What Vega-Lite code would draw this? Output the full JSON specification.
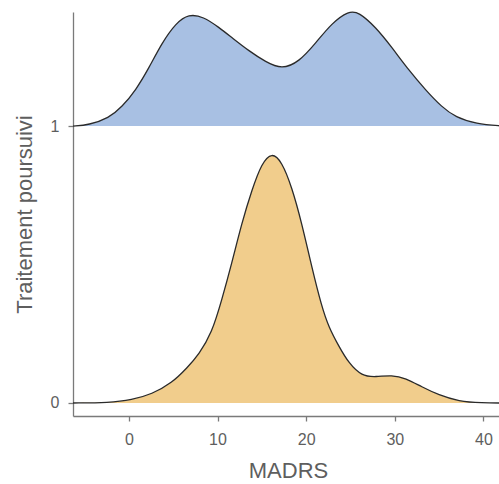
{
  "$schema": "https://vega.github.io/schema/vega-lite/v6.json",
  "autosize": "none",
  "width": 430,
  "height": 404,
  "padding": {"left": 73, "top": 12, "right": 0, "bottom": 68},
  "background": "white",
  "config": {
    "view": {"stroke": null},
    "font": "Liberation Sans",
    "axis": {
      "grid": false,
      "domainColor": "#7a7a7a",
      "domainWidth": 1.3,
      "tickColor": "#7a7a7a",
      "tickWidth": 1.3,
      "tickSize": 5,
      "labelColor": "#5e5e5e",
      "labelFont": "Liberation Sans",
      "labelFontSize": 16,
      "titleFont": "Liberation Sans",
      "titleFontSize": 22,
      "titleFontWeight": "normal",
      "titleColor": "#5e5e5e"
    }
  },
  "data": {
    "values": [
      {"Traitement": "1", "MADRS": -6.3, "y": 1.0, "base": 1},
      {"Traitement": "1", "MADRS": -4.51, "y": 1.004, "base": 1},
      {"Traitement": "1", "MADRS": -2.25, "y": 1.029, "base": 1},
      {"Traitement": "1", "MADRS": -0.79, "y": 1.069, "base": 1},
      {"Traitement": "1", "MADRS": 0.79, "y": 1.13, "base": 1},
      {"Traitement": "1", "MADRS": 2.25, "y": 1.209, "base": 1},
      {"Traitement": "1", "MADRS": 3.72, "y": 1.3, "base": 1},
      {"Traitement": "1", "MADRS": 5.3, "y": 1.372, "base": 1},
      {"Traitement": "1", "MADRS": 6.76, "y": 1.405, "base": 1},
      {"Traitement": "1", "MADRS": 8.4, "y": 1.395, "base": 1},
      {"Traitement": "1", "MADRS": 10.15, "y": 1.357, "base": 1},
      {"Traitement": "1", "MADRS": 11.75, "y": 1.316, "base": 1},
      {"Traitement": "1", "MADRS": 13.53, "y": 1.272, "base": 1},
      {"Traitement": "1", "MADRS": 15.45, "y": 1.231, "base": 1},
      {"Traitement": "1", "MADRS": 17.25, "y": 1.205, "base": 1},
      {"Traitement": "1", "MADRS": 19.17, "y": 1.231, "base": 1},
      {"Traitement": "1", "MADRS": 21.08, "y": 1.3, "base": 1},
      {"Traitement": "1", "MADRS": 22.89, "y": 1.372, "base": 1},
      {"Traitement": "1", "MADRS": 24.8, "y": 1.416, "base": 1},
      {"Traitement": "1", "MADRS": 25.93, "y": 1.412, "base": 1},
      {"Traitement": "1", "MADRS": 27.85, "y": 1.357, "base": 1},
      {"Traitement": "1", "MADRS": 29.65, "y": 1.285, "base": 1},
      {"Traitement": "1", "MADRS": 31.57, "y": 1.202, "base": 1},
      {"Traitement": "1", "MADRS": 33.48, "y": 1.13, "base": 1},
      {"Traitement": "1", "MADRS": 35.29, "y": 1.069, "base": 1},
      {"Traitement": "1", "MADRS": 36.87, "y": 1.032, "base": 1},
      {"Traitement": "1", "MADRS": 39.12, "y": 1.008, "base": 1},
      {"Traitement": "1", "MADRS": 42.2, "y": 1.0, "base": 1},
      {"Traitement": "0", "MADRS": -6.3, "y": 0.0, "base": 0},
      {"Traitement": "0", "MADRS": -2.25, "y": 0.001, "base": 0},
      {"Traitement": "0", "MADRS": 0.34, "y": 0.011, "base": 0},
      {"Traitement": "0", "MADRS": 2.59, "y": 0.032, "base": 0},
      {"Traitement": "0", "MADRS": 4.85, "y": 0.072, "base": 0},
      {"Traitement": "0", "MADRS": 6.6, "y": 0.128, "base": 0},
      {"Traitement": "0", "MADRS": 7.89, "y": 0.175, "base": 0},
      {"Traitement": "0", "MADRS": 9.36, "y": 0.253, "base": 0},
      {"Traitement": "0", "MADRS": 10.48, "y": 0.372, "base": 0},
      {"Traitement": "0", "MADRS": 11.61, "y": 0.505, "base": 0},
      {"Traitement": "0", "MADRS": 12.74, "y": 0.65, "base": 0},
      {"Traitement": "0", "MADRS": 13.87, "y": 0.769, "base": 0},
      {"Traitement": "0", "MADRS": 14.99, "y": 0.866, "base": 0},
      {"Traitement": "0", "MADRS": 16.12, "y": 0.906, "base": 0},
      {"Traitement": "0", "MADRS": 17.25, "y": 0.872, "base": 0},
      {"Traitement": "0", "MADRS": 18.38, "y": 0.78, "base": 0},
      {"Traitement": "0", "MADRS": 19.5, "y": 0.65, "base": 0},
      {"Traitement": "0", "MADRS": 20.63, "y": 0.491, "base": 0},
      {"Traitement": "0", "MADRS": 21.76, "y": 0.347, "base": 0},
      {"Traitement": "0", "MADRS": 22.55, "y": 0.274, "base": 0},
      {"Traitement": "0", "MADRS": 23.68, "y": 0.205, "base": 0},
      {"Traitement": "0", "MADRS": 24.8, "y": 0.144, "base": 0},
      {"Traitement": "0", "MADRS": 26.27, "y": 0.097, "base": 0},
      {"Traitement": "0", "MADRS": 27.85, "y": 0.094, "base": 0},
      {"Traitement": "0", "MADRS": 29.65, "y": 0.101, "base": 0},
      {"Traitement": "0", "MADRS": 31.23, "y": 0.09, "base": 0},
      {"Traitement": "0", "MADRS": 33.03, "y": 0.058, "base": 0},
      {"Traitement": "0", "MADRS": 34.95, "y": 0.029, "base": 0},
      {"Traitement": "0", "MADRS": 37.2, "y": 0.006, "base": 0},
      {"Traitement": "0", "MADRS": 39.8, "y": 0.0, "base": 0},
      {"Traitement": "0", "MADRS": 42.2, "y": 0.0, "base": 0}
    ]
  },
  "encoding": {
    "x": {
      "field": "MADRS",
      "type": "quantitative",
      "scale": {"domain": [-6.3, 42.2], "nice": false, "zero": false},
      "axis": {"values": [0, 10, 20, 30, 40], "title": "MADRS", "titlePadding": 13, "labelPadding": 10}
    },
    "y": {
      "field": "y",
      "type": "quantitative",
      "scale": {"domain": [-0.047, 1.412], "nice": false, "zero": false},
      "axis": {"values": [0, 1], "title": "Traitement poursuivi", "titlePadding": 14, "labelPadding": 9}
    }
  },
  "layer": [
    {
      "mark": {"type": "area", "interpolate": "basis", "opacity": 1},
      "encoding": {
        "y2": {"field": "base"},
        "color": {
          "field": "Traitement",
          "type": "nominal",
          "scale": {"domain": ["0", "1"], "range": ["#F1CD8C", "#A8C0E3"]},
          "legend": null
        }
      }
    },
    {
      "mark": {"type": "line", "interpolate": "basis", "color": "#2a2a2a", "strokeWidth": 1.3},
      "encoding": {"detail": {"field": "Traitement"}}
    }
  ]
}
